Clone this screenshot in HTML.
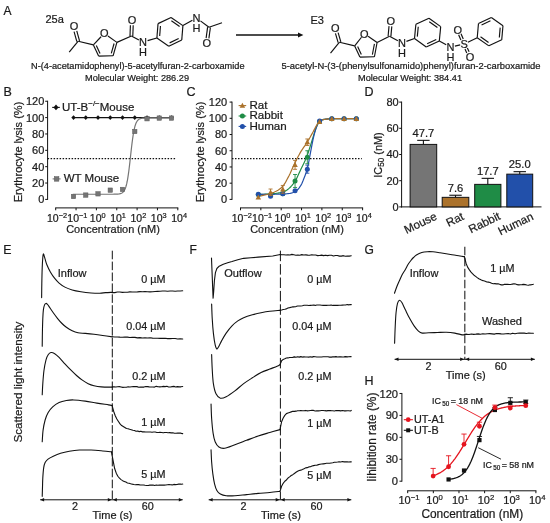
<!DOCTYPE html>
<html><head><meta charset="utf-8"><title>Figure</title>
<style>html,body{margin:0;padding:0;background:#fff}svg{display:block;will-change:transform;font-family:'Liberation Sans', Arial, sans-serif}svg text{stroke:#1a1a1a;stroke-width:0.22px;paint-order:stroke}</style>
</head><body>
<svg width="550" height="523" viewBox="0 0 550 523">
<rect width="550" height="523" fill="#fff"/>
<line x1="69.20" y1="52.20" x2="78.20" y2="41.20" stroke="#111" stroke-width="1.15"/>
<line x1="76.85" y1="41.58" x2="74.06" y2="31.68" stroke="#111" stroke-width="1.15"/>
<line x1="79.55" y1="40.82" x2="76.76" y2="30.93" stroke="#111" stroke-width="1.15"/>
<line x1="78.20" y1="41.20" x2="93.40" y2="44.90" stroke="#111" stroke-width="1.15"/>
<line x1="93.40" y1="44.90" x2="101.05" y2="36.75" stroke="#111" stroke-width="1.15"/>
<line x1="107.95" y1="36.06" x2="116.90" y2="42.40" stroke="#111" stroke-width="1.15"/>
<line x1="116.90" y1="42.40" x2="113.10" y2="55.80" stroke="#111" stroke-width="1.15"/>
<line x1="113.10" y1="55.80" x2="98.60" y2="56.10" stroke="#111" stroke-width="1.15"/>
<line x1="98.60" y1="56.10" x2="93.40" y2="44.90" stroke="#111" stroke-width="1.15"/>
<line x1="114.10" y1="43.48" x2="111.28" y2="53.41" stroke="#111" stroke-width="1.15"/>
<line x1="100.02" y1="53.46" x2="96.33" y2="45.52" stroke="#111" stroke-width="1.15"/>
<line x1="116.90" y1="42.40" x2="131.40" y2="36.00" stroke="#111" stroke-width="1.15"/>
<line x1="130.00" y1="35.95" x2="130.40" y2="25.24" stroke="#111" stroke-width="1.15"/>
<line x1="132.80" y1="36.05" x2="133.20" y2="25.35" stroke="#111" stroke-width="1.15"/>
<line x1="131.40" y1="36.00" x2="138.91" y2="39.89" stroke="#111" stroke-width="1.15"/>
<text x="74.00" y="30.26" font-size="11" text-anchor="middle" fill="#1a1a1a">O</text>
<text x="104.20" y="37.36" font-size="11" text-anchor="middle" fill="#1a1a1a">O</text>
<text x="132.00" y="24.06" font-size="11" text-anchor="middle" fill="#1a1a1a">O</text>
<text x="143.00" y="45.96" font-size="11" text-anchor="middle" fill="#1a1a1a">N</text>
<text x="143.00" y="55.56" font-size="11" text-anchor="middle" fill="#1a1a1a">H</text>
<line x1="182.90" y1="25.60" x2="171.03" y2="17.44" stroke="#111" stroke-width="1.15"/>
<line x1="171.03" y1="17.44" x2="158.03" y2="23.64" stroke="#111" stroke-width="1.15"/>
<line x1="158.03" y1="23.64" x2="156.90" y2="38.00" stroke="#111" stroke-width="1.15"/>
<line x1="156.90" y1="38.00" x2="168.77" y2="46.16" stroke="#111" stroke-width="1.15"/>
<line x1="168.77" y1="46.16" x2="181.77" y2="39.96" stroke="#111" stroke-width="1.15"/>
<line x1="181.77" y1="39.96" x2="182.90" y2="25.60" stroke="#111" stroke-width="1.15"/>
<line x1="179.61" y1="26.50" x2="171.37" y2="20.83" stroke="#111" stroke-width="1.15"/>
<line x1="160.45" y1="26.04" x2="159.67" y2="36.01" stroke="#111" stroke-width="1.15"/>
<line x1="169.64" y1="42.86" x2="178.66" y2="38.56" stroke="#111" stroke-width="1.15"/>
<line x1="147.61" y1="40.67" x2="156.90" y2="38.00" stroke="#111" stroke-width="1.15"/>
<line x1="182.90" y1="25.60" x2="192.40" y2="20.33" stroke="#111" stroke-width="1.15"/>
<line x1="200.44" y1="20.88" x2="209.00" y2="27.30" stroke="#111" stroke-width="1.15"/>
<line x1="210.39" y1="27.49" x2="208.89" y2="38.44" stroke="#111" stroke-width="1.15"/>
<line x1="207.61" y1="27.11" x2="206.12" y2="38.06" stroke="#111" stroke-width="1.15"/>
<line x1="209.00" y1="27.30" x2="222.00" y2="22.70" stroke="#111" stroke-width="1.15"/>
<text x="196.60" y="21.96" font-size="11" text-anchor="middle" fill="#1a1a1a">N</text>
<text x="196.60" y="31.96" font-size="11" text-anchor="middle" fill="#1a1a1a">H</text>
<text x="206.80" y="47.36" font-size="11" text-anchor="middle" fill="#1a1a1a">O</text>
<line x1="330.50" y1="53.20" x2="339.50" y2="42.20" stroke="#111" stroke-width="1.15"/>
<line x1="338.16" y1="42.60" x2="335.43" y2="33.38" stroke="#111" stroke-width="1.15"/>
<line x1="340.84" y1="41.80" x2="338.12" y2="32.59" stroke="#111" stroke-width="1.15"/>
<line x1="339.50" y1="42.20" x2="354.70" y2="45.90" stroke="#111" stroke-width="1.15"/>
<line x1="354.70" y1="45.90" x2="361.47" y2="37.23" stroke="#111" stroke-width="1.15"/>
<line x1="368.08" y1="36.23" x2="377.10" y2="42.50" stroke="#111" stroke-width="1.15"/>
<line x1="377.10" y1="42.50" x2="374.40" y2="56.80" stroke="#111" stroke-width="1.15"/>
<line x1="374.40" y1="56.80" x2="359.90" y2="57.10" stroke="#111" stroke-width="1.15"/>
<line x1="359.90" y1="57.10" x2="354.70" y2="45.90" stroke="#111" stroke-width="1.15"/>
<line x1="374.41" y1="43.82" x2="372.38" y2="54.59" stroke="#111" stroke-width="1.15"/>
<line x1="361.32" y1="54.46" x2="357.63" y2="46.52" stroke="#111" stroke-width="1.15"/>
<line x1="377.10" y1="42.50" x2="389.50" y2="36.20" stroke="#111" stroke-width="1.15"/>
<line x1="388.11" y1="36.07" x2="389.03" y2="26.15" stroke="#111" stroke-width="1.15"/>
<line x1="390.89" y1="36.33" x2="391.81" y2="26.41" stroke="#111" stroke-width="1.15"/>
<line x1="389.50" y1="36.20" x2="397.87" y2="40.79" stroke="#111" stroke-width="1.15"/>
<text x="335.30" y="31.96" font-size="11" text-anchor="middle" fill="#1a1a1a">O</text>
<text x="364.30" y="37.56" font-size="11" text-anchor="middle" fill="#1a1a1a">O</text>
<text x="390.90" y="25.06" font-size="11" text-anchor="middle" fill="#1a1a1a">O</text>
<text x="401.90" y="46.96" font-size="11" text-anchor="middle" fill="#1a1a1a">N</text>
<text x="401.90" y="56.56" font-size="11" text-anchor="middle" fill="#1a1a1a">H</text>
<line x1="440.70" y1="26.63" x2="428.98" y2="18.27" stroke="#111" stroke-width="1.15"/>
<line x1="428.98" y1="18.27" x2="415.88" y2="24.24" stroke="#111" stroke-width="1.15"/>
<line x1="415.88" y1="24.24" x2="414.50" y2="38.57" stroke="#111" stroke-width="1.15"/>
<line x1="414.50" y1="38.57" x2="426.22" y2="46.93" stroke="#111" stroke-width="1.15"/>
<line x1="426.22" y1="46.93" x2="439.32" y2="40.96" stroke="#111" stroke-width="1.15"/>
<line x1="439.32" y1="40.96" x2="440.70" y2="26.63" stroke="#111" stroke-width="1.15"/>
<line x1="437.40" y1="27.47" x2="429.26" y2="21.66" stroke="#111" stroke-width="1.15"/>
<line x1="418.25" y1="26.68" x2="417.30" y2="36.63" stroke="#111" stroke-width="1.15"/>
<line x1="427.14" y1="43.66" x2="436.24" y2="39.51" stroke="#111" stroke-width="1.15"/>
<line x1="406.43" y1="41.41" x2="414.50" y2="38.57" stroke="#111" stroke-width="1.15"/>
<line x1="439.32" y1="40.96" x2="446.22" y2="44.84" stroke="#111" stroke-width="1.15"/>
<line x1="454.88" y1="46.15" x2="460.20" y2="44.91" stroke="#111" stroke-width="1.15"/>
<line x1="460.89" y1="39.95" x2="458.63" y2="34.80" stroke="#111" stroke-width="1.15"/>
<line x1="463.27" y1="38.90" x2="461.01" y2="33.75" stroke="#111" stroke-width="1.15"/>
<line x1="467.36" y1="48.01" x2="469.10" y2="51.81" stroke="#111" stroke-width="1.15"/>
<line x1="465.00" y1="49.09" x2="466.74" y2="52.89" stroke="#111" stroke-width="1.15"/>
<line x1="502.97" y1="25.70" x2="491.34" y2="17.55" stroke="#111" stroke-width="1.15"/>
<line x1="491.34" y1="17.55" x2="478.47" y2="23.56" stroke="#111" stroke-width="1.15"/>
<line x1="478.47" y1="23.56" x2="477.23" y2="37.70" stroke="#111" stroke-width="1.15"/>
<line x1="477.23" y1="37.70" x2="488.86" y2="45.85" stroke="#111" stroke-width="1.15"/>
<line x1="488.86" y1="45.85" x2="501.73" y2="39.84" stroke="#111" stroke-width="1.15"/>
<line x1="501.73" y1="39.84" x2="502.97" y2="25.70" stroke="#111" stroke-width="1.15"/>
<line x1="490.44" y1="20.84" x2="481.56" y2="24.98" stroke="#111" stroke-width="1.15"/>
<line x1="480.52" y1="36.83" x2="488.55" y2="42.45" stroke="#111" stroke-width="1.15"/>
<line x1="499.33" y1="37.43" x2="500.19" y2="27.66" stroke="#111" stroke-width="1.15"/>
<line x1="467.89" y1="42.18" x2="477.23" y2="37.70" stroke="#111" stroke-width="1.15"/>
<text x="450.40" y="51.16" font-size="11" text-anchor="middle" fill="#1a1a1a">N</text>
<text x="450.40" y="60.76" font-size="11" text-anchor="middle" fill="#1a1a1a">H</text>
<text x="464.10" y="47.96" font-size="11" text-anchor="middle" fill="#1a1a1a">S</text>
<text x="457.80" y="33.66" font-size="11" text-anchor="middle" fill="#1a1a1a">O</text>
<text x="470.00" y="60.86" font-size="11" text-anchor="middle" fill="#1a1a1a">O</text>
<text x="3.40" y="15.40" font-size="12" text-anchor="start" fill="#1a1a1a">A</text>
<text x="45.50" y="23.40" font-size="11" text-anchor="start" fill="#1a1a1a">25a</text>
<text x="310.40" y="23.50" font-size="11" text-anchor="start" fill="#1a1a1a">E3</text>
<text x="137.80" y="68.80" font-size="9.2" text-anchor="middle" fill="#1a1a1a">N-(4-acetamidophenyl)-5-acetylfuran-2-carboxamide</text>
<text x="137.00" y="80.80" font-size="9.2" text-anchor="middle" fill="#1a1a1a">Molecular Weight: 286.29</text>
<text x="411.00" y="68.80" font-size="9.4" text-anchor="middle" fill="#1a1a1a">5-acetyl-N-(3-(phenylsulfonamido)phenyl)furan-2-carboxamide</text>
<text x="410.00" y="80.80" font-size="9.2" text-anchor="middle" fill="#1a1a1a">Molecular Weight: 384.41</text>
<line x1="236.00" y1="35.00" x2="299.00" y2="35.00" stroke="#111" stroke-width="1.5"/>
<path d="M303.4,35 L298,32.5 L298,37.5 Z" fill="#111"/>
<text x="3.60" y="95.80" font-size="12.5" text-anchor="start" fill="#1a1a1a">B</text>
<line x1="47.60" y1="199.90" x2="47.60" y2="100.74" stroke="#111" stroke-width="1"/>
<line x1="45.20" y1="199.40" x2="47.60" y2="199.40" stroke="#111" stroke-width="1"/>
<text x="44.30" y="203.36" font-size="11" text-anchor="end" fill="#1a1a1a">0</text>
<line x1="45.20" y1="183.04" x2="47.60" y2="183.04" stroke="#111" stroke-width="1"/>
<text x="44.30" y="187.00" font-size="11" text-anchor="end" fill="#1a1a1a">20</text>
<line x1="45.20" y1="166.68" x2="47.60" y2="166.68" stroke="#111" stroke-width="1"/>
<text x="44.30" y="170.64" font-size="11" text-anchor="end" fill="#1a1a1a">40</text>
<line x1="45.20" y1="150.32" x2="47.60" y2="150.32" stroke="#111" stroke-width="1"/>
<text x="44.30" y="154.28" font-size="11" text-anchor="end" fill="#1a1a1a">60</text>
<line x1="45.20" y1="133.96" x2="47.60" y2="133.96" stroke="#111" stroke-width="1"/>
<text x="44.30" y="137.92" font-size="11" text-anchor="end" fill="#1a1a1a">80</text>
<line x1="45.20" y1="117.60" x2="47.60" y2="117.60" stroke="#111" stroke-width="1"/>
<text x="44.30" y="121.56" font-size="11" text-anchor="end" fill="#1a1a1a">100</text>
<line x1="45.20" y1="101.24" x2="47.60" y2="101.24" stroke="#111" stroke-width="1"/>
<text x="44.30" y="105.20" font-size="11" text-anchor="end" fill="#1a1a1a">120</text>
<line x1="55.20" y1="207.90" x2="178.30" y2="207.90" stroke="#111" stroke-width="1"/>
<line x1="55.70" y1="207.90" x2="55.70" y2="210.30" stroke="#111" stroke-width="1"/>
<text x="57.00" y="221.70" font-size="10.5" text-anchor="middle" fill="#1a1a1a">10<tspan font-size="7.35" dy="-3.78">−2</tspan></text>
<line x1="76.05" y1="207.90" x2="76.05" y2="210.30" stroke="#111" stroke-width="1"/>
<text x="77.35" y="221.70" font-size="10.5" text-anchor="middle" fill="#1a1a1a">10<tspan font-size="7.35" dy="-3.78">−1</tspan></text>
<line x1="96.40" y1="207.90" x2="96.40" y2="210.30" stroke="#111" stroke-width="1"/>
<text x="97.70" y="221.70" font-size="10.5" text-anchor="middle" fill="#1a1a1a">10<tspan font-size="7.35" dy="-3.78">0</tspan></text>
<line x1="116.75" y1="207.90" x2="116.75" y2="210.30" stroke="#111" stroke-width="1"/>
<text x="118.05" y="221.70" font-size="10.5" text-anchor="middle" fill="#1a1a1a">10<tspan font-size="7.35" dy="-3.78">1</tspan></text>
<line x1="137.10" y1="207.90" x2="137.10" y2="210.30" stroke="#111" stroke-width="1"/>
<text x="138.40" y="221.70" font-size="10.5" text-anchor="middle" fill="#1a1a1a">10<tspan font-size="7.35" dy="-3.78">2</tspan></text>
<line x1="157.45" y1="207.90" x2="157.45" y2="210.30" stroke="#111" stroke-width="1"/>
<text x="158.75" y="221.70" font-size="10.5" text-anchor="middle" fill="#1a1a1a">10<tspan font-size="7.35" dy="-3.78">3</tspan></text>
<line x1="177.80" y1="207.90" x2="177.80" y2="210.30" stroke="#111" stroke-width="1"/>
<text x="179.10" y="221.70" font-size="10.5" text-anchor="middle" fill="#1a1a1a">10<tspan font-size="7.35" dy="-3.78">4</tspan></text>
<text transform="translate(113.00 233.20) scale(0.945 1)" font-size="11.6" text-anchor="middle" fill="#1a1a1a">Concentration (nM)</text>
<text x="21.90" y="152.00" font-size="11.05" text-anchor="middle" fill="#1a1a1a" transform="rotate(-90 21.9 152.0)">Erythrocyte lysis (%)</text>
<line x1="47.60" y1="158.70" x2="176.00" y2="158.70" stroke="#111" stroke-width="1.2" stroke-dasharray="1.5,1.5"/>
<line x1="73.51" y1="117.60" x2="171.52" y2="117.60" stroke="#111" stroke-width="1.1"/>
<path d="M73.51,115.20 L75.67,117.60 L73.51,120.00 L71.35,117.60 Z" fill="#111"/>
<path d="M85.76,115.20 L87.92,117.60 L85.76,120.00 L83.60,117.60 Z" fill="#111"/>
<path d="M98.01,115.20 L100.17,117.60 L98.01,120.00 L95.85,117.60 Z" fill="#111"/>
<path d="M110.26,115.20 L112.42,117.60 L110.26,120.00 L108.10,117.60 Z" fill="#111"/>
<path d="M122.52,115.20 L124.68,117.60 L122.52,120.00 L120.36,117.60 Z" fill="#111"/>
<path d="M134.77,115.20 L136.93,117.60 L134.77,120.00 L132.61,117.60 Z" fill="#111"/>
<path d="M147.02,115.20 L149.18,117.60 L147.02,120.00 L144.86,117.60 Z" fill="#111"/>
<path d="M159.27,115.20 L161.43,117.60 L159.27,120.00 L157.11,117.60 Z" fill="#111"/>
<path d="M171.52,115.20 L173.68,117.60 L171.52,120.00 L169.36,117.60 Z" fill="#111"/>
<path d="M73.00,194.25 L73.40,194.25 L73.81,194.25 L74.22,194.25 L74.63,194.25 L75.03,194.25 L75.44,194.25 L75.85,194.25 L76.25,194.25 L76.66,194.25 L77.07,194.25 L77.47,194.25 L77.88,194.25 L78.29,194.25 L78.70,194.25 L79.10,194.25 L79.51,194.25 L79.92,194.25 L80.32,194.25 L80.73,194.25 L81.14,194.25 L81.54,194.25 L81.95,194.25 L82.36,194.25 L82.77,194.25 L83.17,194.25 L83.58,194.25 L83.99,194.25 L84.39,194.25 L84.80,194.25 L85.21,194.25 L85.61,194.25 L86.02,194.25 L86.43,194.25 L86.84,194.25 L87.24,194.25 L87.65,194.25 L88.06,194.25 L88.46,194.25 L88.87,194.25 L89.28,194.25 L89.68,194.25 L90.09,194.25 L90.50,194.25 L90.91,194.25 L91.31,194.25 L91.72,194.25 L92.13,194.25 L92.53,194.25 L92.94,194.25 L93.35,194.25 L93.75,194.25 L94.16,194.25 L94.57,194.25 L94.98,194.25 L95.38,194.25 L95.79,194.25 L96.20,194.25 L96.60,194.25 L97.01,194.25 L97.42,194.25 L97.82,194.25 L98.23,194.25 L98.64,194.25 L99.05,194.25 L99.45,194.25 L99.86,194.25 L100.27,194.25 L100.67,194.25 L101.08,194.25 L101.49,194.25 L101.89,194.25 L102.30,194.25 L102.71,194.25 L103.12,194.25 L103.52,194.25 L103.93,194.25 L104.34,194.25 L104.74,194.25 L105.15,194.25 L105.56,194.25 L105.96,194.25 L106.37,194.25 L106.78,194.25 L107.19,194.25 L107.59,194.25 L108.00,194.24 L108.41,194.24 L108.81,194.24 L109.22,194.24 L109.63,194.24 L110.03,194.24 L110.44,194.24 L110.85,194.24 L111.26,194.24 L111.66,194.24 L112.07,194.23 L112.48,194.23 L112.88,194.23 L113.29,194.23 L113.70,194.22 L114.10,194.22 L114.51,194.21 L114.92,194.20 L115.33,194.19 L115.73,194.18 L116.14,194.17 L116.55,194.15 L116.95,194.13 L117.36,194.10 L117.77,194.07 L118.17,194.03 L118.58,193.99 L118.99,193.94 L119.40,193.87 L119.80,193.79 L120.21,193.69 L120.62,193.58 L121.02,193.43 L121.43,193.26 L121.84,193.06 L122.24,192.81 L122.65,192.51 L123.06,192.14 L123.47,191.71 L123.87,191.19 L124.28,190.57 L124.69,189.83 L125.09,188.95 L125.50,187.92 L125.91,186.70 L126.31,185.28 L126.72,183.63 L127.13,181.74 L127.54,179.58 L127.94,177.16 L128.35,174.45 L128.76,171.49 L129.16,168.29 L129.57,164.88 L129.98,161.32 L130.38,157.66 L130.79,153.97 L131.20,150.32 L131.61,146.78 L132.01,143.40 L132.42,140.23 L132.83,137.30 L133.23,134.64 L133.64,132.25 L134.05,130.14 L134.45,128.28 L134.86,126.67 L135.27,125.28 L135.68,124.09 L136.08,123.08 L136.49,122.22 L136.90,121.50 L137.30,120.90 L137.71,120.39 L138.12,119.97 L138.52,119.62 L138.93,119.33 L139.34,119.09 L139.75,118.88 L140.15,118.72 L140.56,118.58 L140.97,118.47 L141.37,118.37 L141.78,118.29 L142.19,118.23 L142.59,118.18 L143.00,118.13 L143.41,118.10 L143.82,118.07 L144.22,118.04 L144.63,118.02 L145.04,118.01 L145.44,117.99 L145.85,117.98 L146.26,117.97 L146.66,117.96 L147.07,117.96 L147.48,117.95 L147.89,117.95 L148.29,117.94 L148.70,117.94 L149.11,117.94 L149.51,117.94 L149.92,117.93 L150.33,117.93 L150.73,117.93 L151.14,117.93 L151.55,117.93 L151.96,117.93 L152.36,117.93 L152.77,117.93 L153.18,117.93 L153.58,117.93 L153.99,117.93 L154.40,117.93 L154.80,117.93 L155.21,117.93 L155.62,117.93 L156.03,117.93 L156.43,117.93 L156.84,117.93 L157.25,117.93 L157.65,117.93 L158.06,117.93 L158.47,117.93 L158.87,117.93 L159.28,117.93 L159.69,117.93 L160.10,117.93 L160.50,117.93 L160.91,117.93 L161.32,117.93 L161.72,117.93 L162.13,117.93 L162.54,117.93 L162.94,117.93 L163.35,117.93 L163.76,117.93 L164.17,117.93 L164.57,117.93 L164.98,117.93 L165.39,117.93 L165.79,117.93 L166.20,117.93 L166.61,117.93 L167.01,117.93 L167.42,117.93 L167.83,117.93 L168.24,117.93 L168.64,117.93 L169.05,117.93 L169.46,117.93 L169.86,117.93 L170.27,117.93 L170.68,117.93 L171.08,117.93 L171.49,117.93" fill="none" stroke="#757575" stroke-width="1.2" stroke-linejoin="round" stroke-linecap="round"/>
<rect x="71.31" y="194.34" width="4.4" height="4.4" fill="#757575" stroke="#5a5a5a" stroke-width="0.5"/>
<rect x="83.56" y="192.86" width="4.4" height="4.4" fill="#757575" stroke="#5a5a5a" stroke-width="0.5"/>
<rect x="95.81" y="191.64" width="4.4" height="4.4" fill="#757575" stroke="#5a5a5a" stroke-width="0.5"/>
<rect x="108.06" y="187.96" width="4.4" height="4.4" fill="#757575" stroke="#5a5a5a" stroke-width="0.5"/>
<rect x="120.32" y="187.22" width="4.4" height="4.4" fill="#757575" stroke="#5a5a5a" stroke-width="0.5"/>
<rect x="132.57" y="129.31" width="4.4" height="4.4" fill="#757575" stroke="#5a5a5a" stroke-width="0.5"/>
<rect x="144.82" y="116.55" width="4.4" height="4.4" fill="#757575" stroke="#5a5a5a" stroke-width="0.5"/>
<rect x="157.07" y="115.89" width="4.4" height="4.4" fill="#757575" stroke="#5a5a5a" stroke-width="0.5"/>
<rect x="169.32" y="115.89" width="4.4" height="4.4" fill="#757575" stroke="#5a5a5a" stroke-width="0.5"/>
<line x1="52.20" y1="107.40" x2="59.80" y2="107.40" stroke="#111" stroke-width="1.1"/>
<path d="M56.00,104.60 L58.52,107.40 L56.00,110.20 L53.48,107.40 Z" fill="#111"/>
<text x="62" y="111.2" font-size="11.5" fill="#1a1a1a">UT-B<tspan font-size="8" dy="-4.8">−/−</tspan><tspan dy="4.8">Mouse</tspan></text>
<line x1="52.60" y1="178.90" x2="60.60" y2="178.90" stroke="#757575" stroke-width="1.1"/>
<rect x="54.30" y="176.60" width="4.6" height="4.6" fill="#757575" stroke="#5a5a5a" stroke-width="0.5"/>
<text x="63.70" y="182.40" font-size="11.5" text-anchor="start" fill="#1a1a1a">WT Mouse</text>
<text x="186.60" y="96.40" font-size="12.5" text-anchor="start" fill="#1a1a1a">C</text>
<line x1="232.00" y1="199.90" x2="232.00" y2="101.58" stroke="#111" stroke-width="1"/>
<line x1="229.60" y1="199.40" x2="232.00" y2="199.40" stroke="#111" stroke-width="1"/>
<text x="227.20" y="203.36" font-size="11" text-anchor="end" fill="#1a1a1a">0</text>
<line x1="229.60" y1="183.18" x2="232.00" y2="183.18" stroke="#111" stroke-width="1"/>
<text x="227.20" y="187.14" font-size="11" text-anchor="end" fill="#1a1a1a">20</text>
<line x1="229.60" y1="166.96" x2="232.00" y2="166.96" stroke="#111" stroke-width="1"/>
<text x="227.20" y="170.92" font-size="11" text-anchor="end" fill="#1a1a1a">40</text>
<line x1="229.60" y1="150.74" x2="232.00" y2="150.74" stroke="#111" stroke-width="1"/>
<text x="227.20" y="154.70" font-size="11" text-anchor="end" fill="#1a1a1a">60</text>
<line x1="229.60" y1="134.52" x2="232.00" y2="134.52" stroke="#111" stroke-width="1"/>
<text x="227.20" y="138.48" font-size="11" text-anchor="end" fill="#1a1a1a">80</text>
<line x1="229.60" y1="118.30" x2="232.00" y2="118.30" stroke="#111" stroke-width="1"/>
<text x="227.20" y="122.26" font-size="11" text-anchor="end" fill="#1a1a1a">100</text>
<line x1="229.60" y1="102.08" x2="232.00" y2="102.08" stroke="#111" stroke-width="1"/>
<text x="227.20" y="106.04" font-size="11" text-anchor="end" fill="#1a1a1a">120</text>
<line x1="240.00" y1="207.90" x2="363.10" y2="207.90" stroke="#111" stroke-width="1"/>
<line x1="240.50" y1="207.90" x2="240.50" y2="210.30" stroke="#111" stroke-width="1"/>
<text x="241.80" y="221.70" font-size="10.5" text-anchor="middle" fill="#1a1a1a">10<tspan font-size="7.35" dy="-3.78">−2</tspan></text>
<line x1="260.85" y1="207.90" x2="260.85" y2="210.30" stroke="#111" stroke-width="1"/>
<text x="262.15" y="221.70" font-size="10.5" text-anchor="middle" fill="#1a1a1a">10<tspan font-size="7.35" dy="-3.78">−1</tspan></text>
<line x1="281.20" y1="207.90" x2="281.20" y2="210.30" stroke="#111" stroke-width="1"/>
<text x="282.50" y="221.70" font-size="10.5" text-anchor="middle" fill="#1a1a1a">10<tspan font-size="7.35" dy="-3.78">0</tspan></text>
<line x1="301.55" y1="207.90" x2="301.55" y2="210.30" stroke="#111" stroke-width="1"/>
<text x="302.85" y="221.70" font-size="10.5" text-anchor="middle" fill="#1a1a1a">10<tspan font-size="7.35" dy="-3.78">1</tspan></text>
<line x1="321.90" y1="207.90" x2="321.90" y2="210.30" stroke="#111" stroke-width="1"/>
<text x="323.20" y="221.70" font-size="10.5" text-anchor="middle" fill="#1a1a1a">10<tspan font-size="7.35" dy="-3.78">2</tspan></text>
<line x1="342.25" y1="207.90" x2="342.25" y2="210.30" stroke="#111" stroke-width="1"/>
<text x="343.55" y="221.70" font-size="10.5" text-anchor="middle" fill="#1a1a1a">10<tspan font-size="7.35" dy="-3.78">3</tspan></text>
<line x1="362.60" y1="207.90" x2="362.60" y2="210.30" stroke="#111" stroke-width="1"/>
<text x="363.90" y="221.70" font-size="10.5" text-anchor="middle" fill="#1a1a1a">10<tspan font-size="7.35" dy="-3.78">4</tspan></text>
<text transform="translate(297.00 233.20) scale(0.945 1)" font-size="11.6" text-anchor="middle" fill="#1a1a1a">Concentration (nM)</text>
<text x="204.20" y="152.00" font-size="11.05" text-anchor="middle" fill="#1a1a1a" transform="rotate(-90 204.2 152.0)">Erythrocyte lysis (%)</text>
<line x1="232.00" y1="158.70" x2="361.80" y2="158.70" stroke="#111" stroke-width="1.2" stroke-dasharray="1.5,1.5"/>
<path d="M258.00,194.40 L259.00,194.40 L260.00,194.38 L261.00,194.36 L262.00,194.33 L263.00,194.30 L264.00,194.26 L265.00,194.21 L266.00,194.16 L267.00,194.10 L268.00,194.05 L269.00,193.99 L270.00,193.92 L271.00,193.86 L272.00,193.79 L273.00,193.71 L274.00,193.62 L275.00,193.51 L276.00,193.40 L277.00,193.26 L278.00,193.12 L279.00,192.96 L280.00,192.78 L281.00,192.58 L282.00,192.36 L283.00,192.12 L284.00,191.75 L285.00,191.25 L286.00,190.63 L287.00,189.93 L288.00,189.16 L289.00,188.35 L290.00,187.48 L291.00,186.47 L292.00,185.32 L293.00,184.05 L294.00,182.67 L295.00,181.20 L296.00,179.53 L297.00,177.62 L298.00,175.52 L299.00,173.34 L300.00,171.14 L301.00,169.00 L302.00,166.96 L303.00,164.95 L304.00,162.92 L305.00,160.80 L306.00,158.52 L307.00,156.01 L308.00,153.20 L309.00,150.17 L310.00,147.02 L311.00,143.86 L312.00,140.72 L313.00,137.40 L314.00,134.06 L315.00,130.94 L316.00,128.23 L317.00,125.75 L318.00,123.66 L319.00,122.14 L320.00,120.97 L321.00,120.33 L322.00,119.91 L323.00,119.61 L324.00,119.41 L325.00,119.26 L326.00,119.14 L327.00,119.04 L328.00,118.96 L329.00,118.86 L330.00,118.78 L331.00,118.72 L332.00,118.70 L333.00,118.70 L334.00,118.70 L335.00,118.70 L336.00,118.70 L337.00,118.70 L338.00,118.70 L339.00,118.70 L340.00,118.70 L341.00,118.70 L342.00,118.70 L343.00,118.70 L344.00,118.70 L345.00,118.70 L346.00,118.70 L347.00,118.70 L348.00,118.70 L349.00,118.70 L350.00,118.70 L351.00,118.70 L352.00,118.70 L353.00,118.70 L354.00,118.70 L355.00,118.70 L356.00,118.70 L356.20,118.70" fill="none" stroke="#1f8c46" stroke-width="1.2" stroke-linejoin="round" stroke-linecap="round"/>
<path d="M258.00,194.40 L259.00,194.40 L260.00,194.40 L261.00,194.40 L262.00,194.39 L263.00,194.39 L264.00,194.38 L265.00,194.38 L266.00,194.37 L267.00,194.36 L268.00,194.35 L269.00,194.34 L270.00,194.33 L271.00,194.32 L272.00,194.31 L273.00,194.29 L274.00,194.28 L275.00,194.26 L276.00,194.24 L277.00,194.23 L278.00,194.21 L279.00,194.19 L280.00,194.16 L281.00,194.14 L282.00,194.12 L283.00,194.09 L284.00,194.05 L285.00,193.98 L286.00,193.89 L287.00,193.77 L288.00,193.64 L289.00,193.49 L290.00,193.33 L291.00,193.14 L292.00,192.88 L293.00,192.53 L294.00,192.09 L295.00,191.58 L296.00,191.00 L297.00,190.26 L298.00,189.28 L299.00,188.09 L300.00,186.73 L301.00,185.18 L302.00,183.19 L303.00,180.84 L304.00,178.30 L305.00,175.70 L306.00,172.95 L307.00,169.80 L308.00,165.89 L309.00,160.73 L310.00,155.15 L311.00,149.91 L312.00,144.64 L313.00,139.65 L314.00,135.37 L315.00,131.52 L316.00,128.18 L317.00,125.50 L318.00,123.26 L319.00,121.77 L320.00,120.81 L321.00,120.20 L322.00,119.84 L323.00,119.59 L324.00,119.40 L325.00,119.25 L326.00,119.13 L327.00,119.04 L328.00,118.95 L329.00,118.87 L330.00,118.78 L331.00,118.72 L332.00,118.70 L333.00,118.70 L334.00,118.70 L335.00,118.70 L336.00,118.70 L337.00,118.70 L338.00,118.70 L339.00,118.70 L340.00,118.70 L341.00,118.70 L342.00,118.70 L343.00,118.70 L344.00,118.70 L345.00,118.70 L346.00,118.70 L347.00,118.70 L348.00,118.70 L349.00,118.70 L350.00,118.70 L351.00,118.70 L352.00,118.70 L353.00,118.70 L354.00,118.70 L355.00,118.70 L356.00,118.70 L356.20,118.70" fill="none" stroke="#2250aa" stroke-width="1.2" stroke-linejoin="round" stroke-linecap="round"/>
<path d="M258.00,196.30 L259.00,196.14 L260.00,195.97 L261.00,195.80 L262.00,195.61 L263.00,195.41 L264.00,195.20 L265.00,194.99 L266.00,194.76 L267.00,194.53 L268.00,194.28 L269.00,194.01 L270.00,193.72 L271.00,193.41 L272.00,193.06 L273.00,192.68 L274.00,192.26 L275.00,191.80 L276.00,191.31 L277.00,190.76 L278.00,190.16 L279.00,189.49 L280.00,188.75 L281.00,187.92 L282.00,187.00 L283.00,185.96 L284.00,184.65 L285.00,183.09 L286.00,181.36 L287.00,179.52 L288.00,177.63 L289.00,175.74 L290.00,173.71 L291.00,171.54 L292.00,169.31 L293.00,167.06 L294.00,164.87 L295.00,162.80 L296.00,160.79 L297.00,158.79 L298.00,156.83 L299.00,154.93 L300.00,153.12 L301.00,151.40 L302.00,149.82 L303.00,148.35 L304.00,146.94 L305.00,145.54 L306.00,144.08 L307.00,142.52 L308.00,140.88 L309.00,139.18 L310.00,137.44 L311.00,135.67 L312.00,133.88 L313.00,132.07 L314.00,130.14 L315.00,128.19 L316.00,126.33 L317.00,124.69 L318.00,123.16 L319.00,121.89 L320.00,121.04 L321.00,120.42 L322.00,120.02 L323.00,119.72 L324.00,119.49 L325.00,119.32 L326.00,119.17 L327.00,119.05 L328.00,118.95 L329.00,118.86 L330.00,118.78 L331.00,118.72 L332.00,118.70 L333.00,118.70 L334.00,118.70 L335.00,118.70 L336.00,118.70 L337.00,118.70 L338.00,118.70 L339.00,118.70 L340.00,118.70 L341.00,118.70 L342.00,118.70 L343.00,118.70 L344.00,118.70 L345.00,118.70 L346.00,118.70 L347.00,118.70 L348.00,118.70 L349.00,118.70 L350.00,118.70 L351.00,118.70 L352.00,118.70 L353.00,118.70 L354.00,118.70 L355.00,118.70 L356.00,118.70 L356.20,118.70" fill="none" stroke="#ab722b" stroke-width="1.2" stroke-linejoin="round" stroke-linecap="round"/>
<circle cx="258.31" cy="194.53" r="2.5" fill="#1f8c46"/>
<circle cx="270.56" cy="195.34" r="2.5" fill="#1f8c46"/>
<circle cx="282.81" cy="193.72" r="2.5" fill="#1f8c46"/>
<line x1="295.06" y1="187.48" x2="295.06" y2="174.50" stroke="#1f8c46" stroke-width="0.9"/>
<line x1="293.06" y1="174.50" x2="297.06" y2="174.50" stroke="#1f8c46" stroke-width="0.9"/>
<line x1="293.06" y1="187.48" x2="297.06" y2="187.48" stroke="#1f8c46" stroke-width="0.9"/>
<circle cx="295.06" cy="180.99" r="2.5" fill="#1f8c46"/>
<line x1="307.32" y1="163.72" x2="307.32" y2="150.74" stroke="#1f8c46" stroke-width="0.9"/>
<line x1="305.32" y1="150.74" x2="309.32" y2="150.74" stroke="#1f8c46" stroke-width="0.9"/>
<line x1="305.32" y1="163.72" x2="309.32" y2="163.72" stroke="#1f8c46" stroke-width="0.9"/>
<circle cx="307.32" cy="157.23" r="2.5" fill="#1f8c46"/>
<circle cx="319.57" cy="121.54" r="2.5" fill="#1f8c46"/>
<circle cx="331.82" cy="118.79" r="2.5" fill="#1f8c46"/>
<circle cx="344.07" cy="118.79" r="2.5" fill="#1f8c46"/>
<circle cx="356.32" cy="118.79" r="2.5" fill="#1f8c46"/>
<circle cx="258.31" cy="194.13" r="2.5" fill="#2250aa"/>
<circle cx="270.56" cy="196.32" r="2.5" fill="#2250aa"/>
<circle cx="282.81" cy="193.72" r="2.5" fill="#2250aa"/>
<circle cx="295.06" cy="190.80" r="2.5" fill="#2250aa"/>
<line x1="307.32" y1="173.20" x2="307.32" y2="165.09" stroke="#2250aa" stroke-width="0.9"/>
<line x1="305.32" y1="165.09" x2="309.32" y2="165.09" stroke="#2250aa" stroke-width="0.9"/>
<line x1="305.32" y1="173.20" x2="309.32" y2="173.20" stroke="#2250aa" stroke-width="0.9"/>
<circle cx="307.32" cy="169.15" r="2.5" fill="#2250aa"/>
<circle cx="319.57" cy="120.90" r="2.5" fill="#2250aa"/>
<circle cx="331.82" cy="118.79" r="2.5" fill="#2250aa"/>
<circle cx="344.07" cy="118.79" r="2.5" fill="#2250aa"/>
<circle cx="356.32" cy="118.79" r="2.5" fill="#2250aa"/>
<path d="M258.31,194.42 L261.06,199.42 L255.56,199.42 Z" fill="#ab722b"/>
<line x1="270.56" y1="195.51" x2="270.56" y2="189.02" stroke="#ab722b" stroke-width="0.9"/>
<line x1="268.56" y1="189.02" x2="272.56" y2="189.02" stroke="#ab722b" stroke-width="0.9"/>
<line x1="268.56" y1="195.51" x2="272.56" y2="195.51" stroke="#ab722b" stroke-width="0.9"/>
<path d="M270.56,189.39 L273.31,194.39 L267.81,194.39 Z" fill="#ab722b"/>
<line x1="282.81" y1="193.24" x2="282.81" y2="185.45" stroke="#ab722b" stroke-width="0.9"/>
<line x1="280.81" y1="185.45" x2="284.81" y2="185.45" stroke="#ab722b" stroke-width="0.9"/>
<line x1="280.81" y1="193.24" x2="284.81" y2="193.24" stroke="#ab722b" stroke-width="0.9"/>
<path d="M282.81,186.47 L285.56,191.47 L280.06,191.47 Z" fill="#ab722b"/>
<line x1="295.06" y1="169.31" x2="295.06" y2="160.39" stroke="#ab722b" stroke-width="0.9"/>
<line x1="293.06" y1="160.39" x2="297.06" y2="160.39" stroke="#ab722b" stroke-width="0.9"/>
<line x1="293.06" y1="169.31" x2="297.06" y2="169.31" stroke="#ab722b" stroke-width="0.9"/>
<path d="M295.06,161.98 L297.81,166.98 L292.31,166.98 Z" fill="#ab722b"/>
<line x1="307.32" y1="145.47" x2="307.32" y2="138.98" stroke="#ab722b" stroke-width="0.9"/>
<line x1="305.32" y1="138.98" x2="309.32" y2="138.98" stroke="#ab722b" stroke-width="0.9"/>
<line x1="305.32" y1="145.47" x2="309.32" y2="145.47" stroke="#ab722b" stroke-width="0.9"/>
<path d="M307.32,139.35 L310.07,144.35 L304.57,144.35 Z" fill="#ab722b"/>
<path d="M319.57,119.07 L322.32,124.07 L316.82,124.07 Z" fill="#ab722b"/>
<path d="M331.82,115.91 L334.57,120.91 L329.07,120.91 Z" fill="#ab722b"/>
<path d="M344.07,115.91 L346.82,120.91 L341.32,120.91 Z" fill="#ab722b"/>
<path d="M356.32,115.91 L359.07,120.91 L353.57,120.91 Z" fill="#ab722b"/>
<line x1="238.60" y1="105.60" x2="246.20" y2="105.60" stroke="#ab722b" stroke-width="1.1"/>
<path d="M242.40,102.72 L245.15,107.72 L239.65,107.72 Z" fill="#ab722b"/>
<text x="249.40" y="109.00" font-size="11.6" text-anchor="start" fill="#1a1a1a">Rat</text>
<line x1="238.60" y1="116.00" x2="246.20" y2="116.00" stroke="#1f8c46" stroke-width="1.1"/>
<circle cx="242.40" cy="116.00" r="2.5" fill="#1f8c46"/>
<text x="249.40" y="119.40" font-size="11.6" text-anchor="start" fill="#1a1a1a">Rabbit</text>
<line x1="238.60" y1="126.40" x2="246.20" y2="126.40" stroke="#2250aa" stroke-width="1.1"/>
<circle cx="242.40" cy="126.40" r="2.5" fill="#2250aa"/>
<text x="249.40" y="129.80" font-size="11.6" text-anchor="start" fill="#1a1a1a">Human</text>
<text x="364.60" y="95.80" font-size="12.5" text-anchor="start" fill="#1a1a1a">D</text>
<line x1="401.60" y1="207.40" x2="401.60" y2="101.60" stroke="#111" stroke-width="1"/>
<line x1="399.20" y1="206.90" x2="401.60" y2="206.90" stroke="#111" stroke-width="1"/>
<text x="398.70" y="210.86" font-size="11" text-anchor="end" fill="#1a1a1a">0</text>
<line x1="399.20" y1="180.70" x2="401.60" y2="180.70" stroke="#111" stroke-width="1"/>
<text x="398.70" y="184.66" font-size="11" text-anchor="end" fill="#1a1a1a">20</text>
<line x1="399.20" y1="154.50" x2="401.60" y2="154.50" stroke="#111" stroke-width="1"/>
<text x="398.70" y="158.46" font-size="11" text-anchor="end" fill="#1a1a1a">40</text>
<line x1="399.20" y1="128.30" x2="401.60" y2="128.30" stroke="#111" stroke-width="1"/>
<text x="398.70" y="132.26" font-size="11" text-anchor="end" fill="#1a1a1a">60</text>
<line x1="399.20" y1="102.10" x2="401.60" y2="102.10" stroke="#111" stroke-width="1"/>
<text x="398.70" y="106.06" font-size="11" text-anchor="end" fill="#1a1a1a">80</text>
<line x1="401.00" y1="206.90" x2="541.50" y2="206.90" stroke="#111" stroke-width="1"/>
<text x="381.8" y="155" font-size="10.9" text-anchor="middle" fill="#1a1a1a" transform="rotate(-90 381.8 155)">IC<tspan font-size="8.2" dy="2.2">50</tspan><tspan dy="-2.2"> (nM)</tspan></text>
<line x1="423.40" y1="144.41" x2="423.40" y2="140.35" stroke="#111" stroke-width="1.1"/>
<line x1="417.20" y1="140.35" x2="429.60" y2="140.35" stroke="#111" stroke-width="1.1"/>
<rect x="410.10" y="144.41" width="26.60" height="62.49" fill="#757575" stroke="#111" stroke-width="1"/>
<text x="423.40" y="137.15" font-size="11.2" text-anchor="middle" fill="#1a1a1a">47.7</text>
<text x="437.90" y="218.80" font-size="11.6" text-anchor="end" fill="#1a1a1a" transform="rotate(-26 437.9 218.79999999999998)">Mouse</text>
<line x1="455.50" y1="197.34" x2="455.50" y2="195.24" stroke="#111" stroke-width="1.1"/>
<line x1="449.30" y1="195.24" x2="461.70" y2="195.24" stroke="#111" stroke-width="1.1"/>
<rect x="442.20" y="197.34" width="26.60" height="9.56" fill="#ab722b" stroke="#111" stroke-width="1"/>
<text x="455.50" y="192.04" font-size="11.2" text-anchor="middle" fill="#1a1a1a">7.6</text>
<text x="464.70" y="219.10" font-size="11.6" text-anchor="end" fill="#1a1a1a" transform="rotate(-26 464.7 219.1)">Rat</text>
<line x1="487.80" y1="184.37" x2="487.80" y2="178.34" stroke="#111" stroke-width="1.1"/>
<line x1="481.60" y1="178.34" x2="494.00" y2="178.34" stroke="#111" stroke-width="1.1"/>
<rect x="474.70" y="184.37" width="26.20" height="22.53" fill="#1f8c46" stroke="#111" stroke-width="1"/>
<text x="487.80" y="175.14" font-size="11.2" text-anchor="middle" fill="#1a1a1a">17.7</text>
<text x="501.10" y="218.80" font-size="11.6" text-anchor="end" fill="#1a1a1a" transform="rotate(-26 501.09999999999997 218.79999999999998)">Rabbit</text>
<line x1="519.75" y1="174.15" x2="519.75" y2="171.66" stroke="#111" stroke-width="1.1"/>
<line x1="513.55" y1="171.66" x2="525.95" y2="171.66" stroke="#111" stroke-width="1.1"/>
<rect x="506.80" y="174.15" width="25.90" height="32.75" fill="#2250aa" stroke="#111" stroke-width="1"/>
<text x="519.75" y="168.46" font-size="11.2" text-anchor="middle" fill="#1a1a1a">25.0</text>
<text x="534.20" y="219.10" font-size="11.6" text-anchor="end" fill="#1a1a1a" transform="rotate(-26 534.2 219.1)">Human</text>
<text x="3.20" y="254.30" font-size="12.3" text-anchor="start" fill="#1a1a1a">E</text>
<line x1="112.30" y1="250.70" x2="112.30" y2="499.50" stroke="#111" stroke-width="1.0" stroke-dasharray="8.6,2.3"/>
<text x="21.90" y="382.10" font-size="11.7" text-anchor="middle" fill="#1a1a1a" transform="rotate(-90 21.9 382.1)">Scattered light intensity</text>
<path d="M41.64,297.60 C41.67,295.27 41.71,288.63 41.81,283.64 C41.91,278.64 42.05,272.00 42.22,267.64 C42.38,263.27 42.61,259.73 42.80,257.45 C42.99,255.18 43.19,254.35 43.38,253.96 C43.58,253.58 43.67,254.25 43.96,255.13 C44.25,256.00 44.64,257.60 45.13,259.20 C45.61,260.80 46.00,262.59 46.87,264.73 C47.75,266.86 49.05,269.72 50.36,272.00 C51.67,274.28 53.27,276.56 54.73,278.40 C56.18,280.24 57.39,281.60 59.09,283.05 C60.79,284.51 62.73,285.96 64.91,287.13 C67.09,288.29 69.52,289.26 72.18,290.04 C74.85,290.81 77.76,291.30 80.91,291.78 C84.06,292.27 87.94,292.70 91.09,292.95 C94.24,293.19 97.39,293.28 99.82,293.24 C102.24,293.19 103.55,292.80 105.64,292.65 C107.72,292.51 111.21,292.41 112.33,292.36" fill="none" stroke="#111" stroke-width="1.1" stroke-linejoin="round" stroke-linecap="round"/>
<path d="M112.30,292.67 L114.81,292.62 L117.33,292.03 L119.84,291.99 L122.36,292.39 L124.87,292.27 L127.39,292.18 L129.90,291.91 L132.41,292.03 L134.93,291.98 L137.44,291.91 L139.96,291.61 L142.47,291.72 L144.99,291.64 L147.50,291.78 L150.01,291.89 L152.53,291.81 L155.04,291.52 L157.56,291.40 L160.07,291.24 L162.59,291.05 L165.10,290.99 L167.61,291.20 L170.13,291.06 L172.64,291.04 L175.16,291.30 L177.67,291.02 L180.19,290.99 L182.70,290.74" fill="none" stroke="#111" stroke-width="1.1" stroke-linejoin="round" stroke-linecap="round"/>
<path d="M42.22,346.18 C42.25,344.00 42.30,337.70 42.39,333.09 C42.49,328.48 42.64,322.42 42.80,318.55 C42.96,314.67 43.09,312.10 43.38,309.82 C43.67,307.54 44.11,305.94 44.55,304.87 C44.98,303.81 45.52,303.52 46.00,303.42 C46.48,303.32 46.97,303.81 47.45,304.29 C47.94,304.78 47.94,304.92 48.91,306.33 C49.88,307.73 51.82,310.69 53.27,312.73 C54.73,314.76 56.18,316.75 57.64,318.55 C59.09,320.34 60.55,322.04 62.00,323.49 C63.45,324.95 64.67,326.06 66.36,327.27 C68.06,328.48 70.24,329.84 72.18,330.76 C74.12,331.68 75.82,332.36 78.00,332.80 C80.18,333.24 82.61,333.14 85.27,333.38 C87.94,333.62 91.09,333.92 94.00,334.25 C96.91,334.59 99.67,334.98 102.73,335.42 C105.78,335.85 110.73,336.63 112.33,336.87" fill="none" stroke="#111" stroke-width="1.1" stroke-linejoin="round" stroke-linecap="round"/>
<path d="M112.30,336.77 L114.81,336.99 L117.33,336.98 L119.84,337.17 L122.36,337.25 L124.87,337.04 L127.39,337.09 L129.90,337.57 L132.41,337.35 L134.93,337.41 L137.44,337.86 L139.96,337.67 L142.47,337.93 L144.99,337.82 L147.50,337.97 L150.01,337.80 L152.53,338.11 L155.04,338.30 L157.56,338.20 L160.07,338.38 L162.59,338.41 L165.10,338.18 L167.61,338.60 L170.13,338.59 L172.64,338.51 L175.16,338.45 L177.67,338.94 L180.19,338.81 L182.70,339.01" fill="none" stroke="#111" stroke-width="1.1" stroke-linejoin="round" stroke-linecap="round"/>
<path d="M42.22,394.69 C42.32,392.85 42.51,387.66 42.80,383.64 C43.09,379.61 43.43,374.52 43.96,370.55 C44.50,366.57 45.27,362.45 46.00,359.78 C46.73,357.12 47.50,355.76 48.33,354.55 C49.15,353.33 49.88,352.65 50.95,352.51 C52.01,352.36 53.37,352.85 54.73,353.67 C56.08,354.50 57.39,355.76 59.09,357.45 C60.79,359.15 62.97,361.77 64.91,363.85 C66.85,365.94 68.79,368.02 70.73,369.96 C72.67,371.90 74.61,373.79 76.55,375.49 C78.48,377.19 80.42,378.79 82.36,380.15 C84.30,381.50 86.24,382.72 88.18,383.64 C90.12,384.56 91.82,385.14 94.00,385.67 C96.18,386.21 98.22,386.59 101.27,386.84 C104.33,387.08 110.48,387.08 112.33,387.13" fill="none" stroke="#111" stroke-width="1.1" stroke-linejoin="round" stroke-linecap="round"/>
<path d="M112.30,386.86 L114.06,386.73 L115.82,386.98 L117.58,386.74 L119.34,386.65 L121.10,386.94 L122.86,387.39 L124.62,387.27 L126.38,387.22 L128.14,386.71 L129.90,386.98 L131.66,386.73 L133.42,386.63 L135.18,386.55 L136.94,386.63 L138.70,387.26 L140.46,387.16 L142.22,387.12 L143.98,387.10 L145.74,386.54 L147.50,386.63 L149.26,386.90 L151.02,386.98 L152.78,387.07 L154.54,387.08 L156.30,386.35 L158.06,386.81 L159.82,386.85 L161.58,386.69 L163.34,386.38 L165.10,386.63 L166.86,386.27 L168.62,387.01 L170.38,386.93 L172.14,386.63 L173.90,386.40 L175.66,386.93 L177.42,386.61 L179.18,386.87 L180.94,386.83 L182.70,386.51" fill="none" stroke="#111" stroke-width="1.1" stroke-linejoin="round" stroke-linecap="round"/>
<path d="M42.22,441.82 C42.36,439.88 42.61,433.82 43.09,430.18 C43.58,426.55 44.30,422.91 45.13,420.00 C45.95,417.09 46.78,414.91 48.04,412.73 C49.30,410.55 50.85,408.61 52.69,406.91 C54.53,405.21 56.81,403.61 59.09,402.55 C61.37,401.48 63.94,400.95 66.36,400.51 C68.79,400.07 70.48,399.83 73.64,399.93 C76.79,400.02 81.39,400.56 85.27,401.09 C89.15,401.62 93.03,402.50 96.91,403.13 C100.79,403.76 106.02,404.48 108.55,404.87 C111.07,405.26 111.45,405.36 112.04,405.45" fill="none" stroke="#111" stroke-width="1.1" stroke-linejoin="round" stroke-linecap="round"/>
<path d="M112.04,405.45 L113.64,411.23 L115.24,415.77 L116.84,419.07 L118.44,421.54 L120.04,423.90 L121.64,425.54 L123.24,426.55 L124.84,427.55 L126.44,428.52 L128.04,428.73 L129.64,429.32 L131.24,429.72 L132.84,430.25 L134.44,430.49 L136.04,431.23 L137.64,431.06 L139.24,431.62 L140.84,431.30 L142.44,431.88 L144.04,431.78 L145.64,431.99 L147.24,432.07 L148.84,431.93 L150.44,431.98 L152.04,432.29 L153.64,432.04 L155.24,432.03 L156.84,432.51 L158.44,432.49 L160.04,432.34 L161.64,432.55 L163.24,432.83 L164.84,432.54 L166.44,432.52 L168.04,432.75 L169.64,432.67 L171.24,432.85 L172.84,432.72 L174.44,433.20 L176.04,433.29 L177.64,433.11 L179.24,433.17 L180.84,433.17 L182.44,433.62 L182.73,433.59" fill="none" stroke="#111" stroke-width="1.1" stroke-linejoin="round" stroke-linecap="round"/>
<path d="M42.22,496.33 C42.27,494.73 42.41,489.78 42.51,486.73 C42.61,483.67 42.61,481.15 42.80,478.00 C42.99,474.85 43.28,470.39 43.67,467.82 C44.06,465.25 44.40,464.04 45.13,462.58 C45.85,461.13 46.68,460.16 48.04,459.09 C49.39,458.02 51.19,457.15 53.27,456.18 C55.36,455.21 57.88,454.10 60.55,453.27 C63.21,452.45 66.12,451.77 69.27,451.24 C72.42,450.70 75.82,450.27 79.45,450.07 C83.09,449.88 87.21,449.93 91.09,450.07 C94.97,450.22 99.33,450.65 102.73,450.95 C106.12,451.24 110.00,451.67 111.45,451.82" fill="none" stroke="#111" stroke-width="1.1" stroke-linejoin="round" stroke-linecap="round"/>
<path d="M111.45,451.82 L113.05,460.42 L114.65,468.55 L116.25,473.14 L117.85,476.24 L119.45,478.19 L121.05,479.59 L122.65,480.64 L124.25,481.38 L125.85,482.09 L127.45,482.93 L129.05,483.17 L130.65,483.73 L132.25,484.12 L133.85,484.44 L135.45,484.71 L137.05,484.49 L138.65,484.62 L140.25,485.02 L141.85,485.04 L143.45,484.93 L145.05,485.28 L146.65,485.44 L148.25,485.45 L149.85,485.11 L151.45,485.15 L153.05,484.97 L154.65,485.48 L156.25,485.03 L157.85,485.27 L159.45,485.12 L161.05,485.11 L162.65,485.03 L164.25,485.15 L165.85,484.98 L167.45,484.76 L169.05,484.59 L170.65,484.73 L172.25,484.91 L173.85,484.40 L175.45,484.62 L177.05,484.51 L178.65,484.16 L180.25,484.09 L181.85,484.27 L182.73,484.07" fill="none" stroke="#111" stroke-width="1.1" stroke-linejoin="round" stroke-linecap="round"/>
<text x="57.80" y="276.70" font-size="11" text-anchor="start" fill="#1a1a1a">Inflow</text>
<text x="165.60" y="282.60" font-size="10.8" text-anchor="end" fill="#1a1a1a">0 µM</text>
<text x="165.60" y="330.30" font-size="10.8" text-anchor="end" fill="#1a1a1a">0.04 µM</text>
<text x="165.60" y="380.30" font-size="10.8" text-anchor="end" fill="#1a1a1a">0.2 µM</text>
<text x="165.60" y="426.20" font-size="10.8" text-anchor="end" fill="#1a1a1a">1 µM</text>
<text x="165.60" y="477.50" font-size="10.8" text-anchor="end" fill="#1a1a1a">5 µM</text>
<line x1="40.20" y1="499.80" x2="182.70" y2="499.80" stroke="#111" stroke-width="1.0"/>
<path d="M40.20,499.80 L44.10,498.10 L44.10,501.50 Z" fill="#111"/>
<path d="M111.70,499.80 L107.80,498.10 L107.80,501.50 Z" fill="#111"/>
<path d="M112.90,499.80 L116.80,498.10 L116.80,501.50 Z" fill="#111"/>
<path d="M182.70,499.80 L178.80,498.10 L178.80,501.50 Z" fill="#111"/>
<text x="75.10" y="510.10" font-size="10.8" text-anchor="middle" fill="#1a1a1a">2</text>
<text x="147.80" y="510.10" font-size="10.8" text-anchor="middle" fill="#1a1a1a">60</text>
<text x="112.50" y="519.00" font-size="11" text-anchor="middle" fill="#1a1a1a">Time (s)</text>
<text x="189.40" y="253.50" font-size="12" text-anchor="start" fill="#1a1a1a">F</text>
<line x1="280.40" y1="250.70" x2="280.40" y2="499.50" stroke="#111" stroke-width="1.0" stroke-dasharray="10.5,2.9"/>
<path d="M211.49,258.04 L211.93,269.09 L212.51,283.64 L213.09,298.18 L213.67,291.78 L214.40,280.73 L215.42,272.58 L216.87,268.51 L219.20,266.18 L223.27,264.15 L227.64,262.69 L232.00,261.53 L237.82,259.78 L243.64,258.33 L250.91,257.75 L258.18,257.16 L272.73,256.00 L280.29,254.55" fill="none" stroke="#111" stroke-width="1.1" stroke-linejoin="round" stroke-linecap="round"/>
<path d="M280.00,254.60 L281.98,254.74 L283.96,254.82 L285.94,254.98 L287.92,254.86 L289.90,255.05 L291.88,254.37 L293.86,254.76 L295.84,255.19 L297.82,254.99 L299.81,255.24 L301.79,254.65 L303.77,254.98 L305.75,254.84 L307.73,255.12 L309.71,255.18 L311.69,254.78 L313.67,254.98 L315.65,255.07 L317.63,255.62 L319.61,255.55 L321.59,255.10 L323.57,255.65 L325.55,255.17 L327.53,255.59 L329.51,255.24 L331.49,255.18 L333.48,255.92 L335.46,255.43 L337.44,255.48 L339.42,256.14 L341.40,256.09 L343.38,255.66 L345.36,256.24 L347.34,255.95 L349.32,256.10 L351.30,255.76" fill="none" stroke="#111" stroke-width="1.1" stroke-linejoin="round" stroke-linecap="round"/>
<path d="M211.64,304.00 C211.73,306.42 211.93,313.70 212.22,318.55 C212.51,323.39 212.90,328.73 213.38,333.09 C213.87,337.45 214.55,342.06 215.13,344.73 C215.71,347.39 216.24,348.85 216.87,349.09 C217.50,349.33 218.08,347.64 218.91,346.18 C219.73,344.73 220.61,342.55 221.82,340.36 C223.03,338.18 224.48,335.52 226.18,333.09 C227.88,330.67 230.06,327.85 232.00,325.82 C233.94,323.78 235.88,322.23 237.82,320.87 C239.76,319.52 241.21,318.69 243.64,317.67 C246.06,316.65 249.45,315.59 252.36,314.76 C255.27,313.94 258.18,313.31 261.09,312.73 C264.00,312.15 266.67,311.66 269.82,311.27 C272.97,310.88 278.30,310.55 280.00,310.40" fill="none" stroke="#111" stroke-width="1.1" stroke-linejoin="round" stroke-linecap="round"/>
<path d="M280.00,310.40 L281.60,310.02 L283.20,309.51 L284.80,309.22 L286.40,308.85 L288.00,307.95 L289.60,307.64 L291.20,307.22 L292.80,306.90 L294.40,306.83 L296.00,306.59 L297.60,306.05 L299.20,306.03 L300.80,305.94 L302.40,305.72 L304.00,305.30 L305.60,305.31 L307.20,305.26 L308.80,305.43 L310.40,305.34 L312.00,305.26 L313.60,305.04 L315.20,305.41 L316.80,305.01 L318.40,305.07 L320.00,304.97 L321.60,305.21 L323.20,305.33 L324.80,305.28 L326.40,305.35 L328.00,305.28 L329.60,305.25 L331.20,305.02 L332.80,305.41 L334.40,305.41 L336.00,305.24 L337.60,305.36 L339.20,305.25 L340.80,305.20 L342.40,305.08 L344.00,305.05 L345.60,304.93 L347.20,304.55 L348.80,304.88 L350.40,304.54 L351.27,304.66" fill="none" stroke="#111" stroke-width="1.1" stroke-linejoin="round" stroke-linecap="round"/>
<path d="M211.64,354.55 C211.73,356.97 211.93,364.24 212.22,369.09 C212.51,373.94 212.75,379.52 213.38,383.64 C214.01,387.76 214.84,391.39 216.00,393.82 C217.16,396.24 218.67,397.70 220.36,398.18 C222.06,398.67 223.76,397.94 226.18,396.73 C228.61,395.52 232.00,393.09 234.91,390.91 C237.82,388.73 240.73,385.82 243.64,383.64 C246.55,381.45 249.45,379.66 252.36,377.82 C255.27,375.98 258.18,374.04 261.09,372.58 C264.00,371.13 267.15,370.16 269.82,369.09 C272.48,368.02 275.39,366.91 277.09,366.18 C278.79,365.45 279.52,364.97 280.00,364.73" fill="none" stroke="#111" stroke-width="1.1" stroke-linejoin="round" stroke-linecap="round"/>
<path d="M280.00,364.73 L281.60,360.78 L283.20,359.41 L284.80,358.80 L286.40,358.04 L288.00,357.92 L289.60,357.45 L291.20,357.46 L292.80,357.39 L294.40,356.87 L296.00,357.28 L297.60,356.71 L299.20,357.13 L300.80,356.64 L302.40,357.08 L304.00,356.92 L305.60,356.93 L307.20,356.96 L308.80,357.14 L310.40,356.82 L312.00,357.11 L313.60,356.63 L315.20,356.74 L316.80,356.93 L318.40,356.94 L320.00,357.05 L321.60,357.02 L323.20,356.75 L324.80,356.78 L326.40,356.82 L328.00,356.72 L329.60,357.09 L331.20,357.09 L332.80,356.89 L334.40,356.89 L336.00,356.60 L337.60,357.06 L339.20,356.88 L340.80,356.70 L342.40,357.04 L344.00,356.90 L345.60,356.63 L347.20,356.88 L348.80,356.70 L350.40,356.62 L351.27,356.75" fill="none" stroke="#111" stroke-width="1.1" stroke-linejoin="round" stroke-linecap="round"/>
<path d="M211.05,404.00 C211.15,406.42 211.30,413.70 211.64,418.55 C211.98,423.39 212.51,429.21 213.09,433.09 C213.67,436.97 214.16,439.49 215.13,441.82 C216.10,444.15 217.31,445.99 218.91,447.05 C220.51,448.12 222.06,448.61 224.73,448.22 C227.39,447.83 231.27,446.04 234.91,444.73 C238.55,443.42 242.67,441.82 246.55,440.36 C250.42,438.91 254.30,437.31 258.18,436.00 C262.06,434.69 266.18,433.58 269.82,432.51 C273.45,431.44 278.30,430.08 280.00,429.60" fill="none" stroke="#111" stroke-width="1.1" stroke-linejoin="round" stroke-linecap="round"/>
<path d="M280.00,429.60 L281.60,421.74 L283.20,417.93 L284.80,415.35 L286.40,413.61 L288.00,413.03 L289.60,412.46 L291.20,411.88 L292.80,411.32 L294.40,411.33 L296.00,411.17 L297.60,410.68 L299.20,410.72 L300.80,410.48 L302.40,410.79 L304.00,410.76 L305.60,410.42 L307.20,410.84 L308.80,410.75 L310.40,410.46 L312.00,410.42 L313.60,410.41 L315.20,410.94 L316.80,410.86 L318.40,410.87 L320.00,410.70 L321.60,410.50 L323.20,410.45 L324.80,410.67 L326.40,410.85 L328.00,410.63 L329.60,410.50 L331.20,410.66 L332.80,410.71 L334.40,410.93 L336.00,410.52 L337.60,410.65 L339.20,410.59 L340.80,410.85 L342.40,410.52 L344.00,410.83 L345.60,410.87 L347.20,410.69 L348.80,410.72 L350.40,410.94 L351.27,410.45" fill="none" stroke="#111" stroke-width="1.1" stroke-linejoin="round" stroke-linecap="round"/>
<path d="M211.05,449.78 C211.15,451.82 211.35,458.02 211.64,462.00 C211.93,465.98 212.32,470.00 212.80,473.64 C213.28,477.27 213.87,481.01 214.55,483.82 C215.22,486.63 215.90,488.81 216.87,490.51 C217.84,492.21 218.81,493.13 220.36,494.00 C221.92,494.87 223.76,495.45 226.18,495.75 C228.61,496.04 231.52,495.94 234.91,495.75 C238.30,495.55 242.67,494.97 246.55,494.58 C250.42,494.19 254.30,493.76 258.18,493.42 C262.06,493.08 266.18,492.88 269.82,492.55 C273.45,492.21 278.30,491.58 280.00,491.38" fill="none" stroke="#111" stroke-width="1.1" stroke-linejoin="round" stroke-linecap="round"/>
<path d="M280.00,491.38 L281.60,486.34 L283.20,483.31 L284.80,481.26 L286.40,479.96 L288.00,478.03 L289.60,476.92 L291.20,475.52 L292.80,474.67 L294.40,473.48 L296.00,472.31 L297.60,471.31 L299.20,470.59 L300.80,470.15 L302.40,469.55 L304.00,468.79 L305.60,467.87 L307.20,467.64 L308.80,466.89 L310.40,466.75 L312.00,466.05 L313.60,465.62 L315.20,465.25 L316.80,465.32 L318.40,464.63 L320.00,464.28 L321.60,464.01 L323.20,463.84 L324.80,463.67 L326.40,463.29 L328.00,463.32 L329.60,463.31 L331.20,463.02 L332.80,462.74 L334.40,462.23 L336.00,462.29 L337.60,462.07 L339.20,461.69 L340.80,461.95 L342.40,461.54 L344.00,461.84 L345.60,461.84 L347.20,461.86 L348.80,462.06 L350.40,461.77 L351.27,461.89" fill="none" stroke="#111" stroke-width="1.1" stroke-linejoin="round" stroke-linecap="round"/>
<text x="224.30" y="276.80" font-size="11" text-anchor="start" fill="#1a1a1a">Outflow</text>
<text x="331.60" y="282.60" font-size="10.8" text-anchor="end" fill="#1a1a1a">0 µM</text>
<text x="331.60" y="330.30" font-size="10.8" text-anchor="end" fill="#1a1a1a">0.04 µM</text>
<text x="331.60" y="380.10" font-size="10.8" text-anchor="end" fill="#1a1a1a">0.2 µM</text>
<text x="331.60" y="426.70" font-size="10.8" text-anchor="end" fill="#1a1a1a">1 µM</text>
<text x="331.60" y="479.30" font-size="10.8" text-anchor="end" fill="#1a1a1a">5 µM</text>
<line x1="208.70" y1="499.80" x2="351.30" y2="499.80" stroke="#111" stroke-width="1.0"/>
<path d="M208.70,499.80 L212.60,498.10 L212.60,501.50 Z" fill="#111"/>
<path d="M279.60,499.80 L275.70,498.10 L275.70,501.50 Z" fill="#111"/>
<path d="M280.80,499.80 L284.70,498.10 L284.70,501.50 Z" fill="#111"/>
<path d="M351.30,499.80 L347.40,498.10 L347.40,501.50 Z" fill="#111"/>
<text x="243.60" y="510.10" font-size="10.8" text-anchor="middle" fill="#1a1a1a">2</text>
<text x="316.40" y="510.10" font-size="10.8" text-anchor="middle" fill="#1a1a1a">60</text>
<text x="281.00" y="519.00" font-size="11" text-anchor="middle" fill="#1a1a1a">Time (s)</text>
<text x="364.60" y="254.20" font-size="12" text-anchor="start" fill="#1a1a1a">G</text>
<line x1="464.80" y1="246.70" x2="464.80" y2="359.30" stroke="#333" stroke-width="1.2" stroke-dasharray="8.6,2.4"/>
<path d="M394.50,293.20 C394.83,292.25 395.73,289.47 396.50,287.50 C397.27,285.53 398.18,283.48 399.10,281.40 C400.02,279.32 400.93,277.03 402.00,275.00 C403.07,272.97 404.50,270.95 405.50,269.20 C406.50,267.45 407.10,265.95 408.00,264.50 C408.90,263.05 409.98,261.67 410.90,260.50 C411.82,259.33 412.58,258.42 413.50,257.50 C414.42,256.58 415.02,255.83 416.40,255.00 C417.78,254.17 419.98,253.05 421.80,252.50 C423.62,251.95 425.43,251.82 427.30,251.70 C429.17,251.58 430.88,251.62 433.00,251.80 C435.12,251.98 436.83,252.30 440.00,252.80 C443.17,253.30 448.67,254.27 452.00,254.80 C455.33,255.33 457.93,255.67 460.00,256.00 C462.07,256.33 463.67,256.67 464.40,256.80" fill="none" stroke="#111" stroke-width="1.1" stroke-linejoin="round" stroke-linecap="round"/>
<path d="M464.42,256.58 L466.02,263.23 L467.62,267.15 L469.22,269.66 L470.82,271.90 L472.42,273.56 L474.02,275.22 L475.62,276.43 L477.22,277.67 L478.82,278.79 L480.42,279.51 L482.02,280.39 L483.62,280.79 L485.22,281.33 L486.82,282.04 L488.42,282.15 L490.02,282.56 L491.62,283.34 L493.22,283.73 L494.82,283.65 L496.42,283.89 L498.02,283.69 L499.62,284.31 L501.22,284.86 L502.82,284.91 L504.42,284.27 L506.02,284.37 L507.62,284.26 L509.22,284.52 L510.82,284.56 L512.42,284.09 L514.02,283.71 L515.62,284.07 L517.22,284.66 L518.82,284.85 L520.42,284.68 L522.02,284.64 L523.62,284.35 L525.22,284.59 L526.82,284.95 L528.42,285.26 L530.02,284.84 L531.62,284.62 L533.22,284.32 L533.36,284.25" fill="none" stroke="#111" stroke-width="1.1" stroke-linejoin="round" stroke-linecap="round"/>
<path d="M394.60,343.27 C394.70,340.61 394.94,332.36 395.18,327.27 C395.42,322.18 395.67,316.70 396.05,312.73 C396.44,308.75 396.93,305.50 397.51,303.42 C398.09,301.33 398.82,300.36 399.55,300.22 C400.27,300.07 400.90,300.95 401.87,302.55 C402.84,304.15 404.05,307.15 405.36,309.82 C406.67,312.48 408.27,315.88 409.73,318.55 C411.18,321.21 412.64,323.73 414.09,325.82 C415.55,327.90 417.10,329.84 418.45,331.05 C419.81,332.27 420.54,332.80 422.24,333.09 C423.93,333.38 426.12,332.90 428.64,332.80 C431.16,332.70 434.45,332.61 437.36,332.51 C440.27,332.41 443.18,332.12 446.09,332.22 C449.00,332.32 452.15,332.65 454.82,333.09 C457.48,333.53 460.49,334.59 462.09,334.84 C463.69,335.08 464.03,334.59 464.42,334.55" fill="none" stroke="#111" stroke-width="1.1" stroke-linejoin="round" stroke-linecap="round"/>
<path d="M464.40,334.36 L466.70,334.17 L469.00,334.53 L471.30,334.02 L473.60,334.34 L475.90,334.16 L478.20,333.87 L480.50,334.18 L482.80,333.76 L485.10,334.03 L487.40,333.69 L489.70,333.66 L492.00,333.88 L494.30,334.15 L496.60,333.55 L498.90,333.58 L501.20,333.86 L503.50,334.06 L505.80,333.72 L508.10,333.53 L510.40,333.95 L512.70,333.16 L515.00,333.76 L517.30,333.26 L519.60,333.10 L521.90,333.03 L524.20,333.13 L526.50,333.49 L528.80,332.94 L531.10,333.21 L533.40,333.21" fill="none" stroke="#111" stroke-width="1.1" stroke-linejoin="round" stroke-linecap="round"/>
<text x="409.70" y="276.50" font-size="11" text-anchor="start" fill="#1a1a1a">Inflow</text>
<text x="514.60" y="272.40" font-size="10.8" text-anchor="end" fill="#1a1a1a">1 µM</text>
<text x="521.90" y="324.80" font-size="11" text-anchor="end" fill="#1a1a1a">Washed</text>
<line x1="394.60" y1="359.30" x2="534.80" y2="359.30" stroke="#111" stroke-width="1.0"/>
<path d="M394.60,359.30 L398.50,357.60 L398.50,361.00 Z" fill="#111"/>
<path d="M464.10,359.30 L460.20,357.60 L460.20,361.00 Z" fill="#111"/>
<path d="M465.30,359.30 L469.20,357.60 L469.20,361.00 Z" fill="#111"/>
<path d="M534.80,359.30 L530.90,357.60 L530.90,361.00 Z" fill="#111"/>
<text x="428.60" y="370.40" font-size="10.8" text-anchor="middle" fill="#1a1a1a">2</text>
<text x="500.80" y="370.40" font-size="10.8" text-anchor="middle" fill="#1a1a1a">60</text>
<text x="465.70" y="379.30" font-size="11" text-anchor="middle" fill="#1a1a1a">Time (s)</text>
<text x="364.40" y="385.40" font-size="12.5" text-anchor="start" fill="#1a1a1a">H</text>
<line x1="401.90" y1="481.70" x2="401.90" y2="392.98" stroke="#111" stroke-width="1"/>
<line x1="399.50" y1="481.20" x2="401.90" y2="481.20" stroke="#111" stroke-width="1"/>
<text x="398.10" y="485.23" font-size="11.2" text-anchor="end" fill="#1a1a1a">0</text>
<line x1="399.50" y1="459.27" x2="401.90" y2="459.27" stroke="#111" stroke-width="1"/>
<text x="398.10" y="463.30" font-size="11.2" text-anchor="end" fill="#1a1a1a">30</text>
<line x1="399.50" y1="437.34" x2="401.90" y2="437.34" stroke="#111" stroke-width="1"/>
<text x="398.10" y="441.37" font-size="11.2" text-anchor="end" fill="#1a1a1a">60</text>
<line x1="399.50" y1="415.41" x2="401.90" y2="415.41" stroke="#111" stroke-width="1"/>
<text x="398.10" y="419.44" font-size="11.2" text-anchor="end" fill="#1a1a1a">90</text>
<line x1="399.50" y1="393.48" x2="401.90" y2="393.48" stroke="#111" stroke-width="1"/>
<text x="398.10" y="397.51" font-size="11.2" text-anchor="end" fill="#1a1a1a">120</text>
<line x1="407.20" y1="490.80" x2="536.40" y2="490.80" stroke="#111" stroke-width="1"/>
<line x1="407.70" y1="490.80" x2="407.70" y2="493.20" stroke="#111" stroke-width="1"/>
<text x="409.00" y="504.10" font-size="11" text-anchor="middle" fill="#1a1a1a">10<tspan font-size="7.70" dy="-3.96">−1</tspan></text>
<line x1="433.34" y1="490.80" x2="433.34" y2="493.20" stroke="#111" stroke-width="1"/>
<text x="434.64" y="504.10" font-size="11" text-anchor="middle" fill="#1a1a1a">10<tspan font-size="7.70" dy="-3.96">0</tspan></text>
<line x1="458.98" y1="490.80" x2="458.98" y2="493.20" stroke="#111" stroke-width="1"/>
<text x="460.28" y="504.10" font-size="11" text-anchor="middle" fill="#1a1a1a">10<tspan font-size="7.70" dy="-3.96">1</tspan></text>
<line x1="484.62" y1="490.80" x2="484.62" y2="493.20" stroke="#111" stroke-width="1"/>
<text x="485.92" y="504.10" font-size="11" text-anchor="middle" fill="#1a1a1a">10<tspan font-size="7.70" dy="-3.96">2</tspan></text>
<line x1="510.26" y1="490.80" x2="510.26" y2="493.20" stroke="#111" stroke-width="1"/>
<text x="511.56" y="504.10" font-size="11" text-anchor="middle" fill="#1a1a1a">10<tspan font-size="7.70" dy="-3.96">3</tspan></text>
<line x1="535.90" y1="490.80" x2="535.90" y2="493.20" stroke="#111" stroke-width="1"/>
<text x="537.20" y="504.10" font-size="11" text-anchor="middle" fill="#1a1a1a">10<tspan font-size="7.70" dy="-3.96">4</tspan></text>
<text x="472.30" y="518.00" font-size="11.9" text-anchor="middle" fill="#1a1a1a">Concentration (nM)</text>
<text x="376.40" y="437.20" font-size="11.9" text-anchor="middle" fill="#1a1a1a" transform="rotate(-90 376.4 437.2)">Iihibition rate (%)</text>
<path d="M433.14,475.81 L433.65,475.64 L434.17,475.46 L434.68,475.27 L435.19,475.07 L435.70,474.86 L436.22,474.65 L436.73,474.43 L437.24,474.20 L437.76,473.95 L438.27,473.70 L438.78,473.44 L439.29,473.17 L439.81,472.89 L440.32,472.60 L440.83,472.30 L441.34,471.98 L441.86,471.66 L442.37,471.32 L442.88,470.97 L443.40,470.61 L443.91,470.23 L444.42,469.84 L444.93,469.44 L445.45,469.03 L445.96,468.60 L446.47,468.15 L446.99,467.69 L447.50,467.22 L448.01,466.74 L448.52,466.23 L449.04,465.72 L449.55,465.19 L450.06,464.64 L450.58,464.08 L451.09,463.50 L451.60,462.91 L452.11,462.30 L452.63,461.68 L453.14,461.04 L453.65,460.39 L454.16,459.72 L454.68,459.04 L455.19,458.34 L455.70,457.63 L456.22,456.91 L456.73,456.17 L457.24,455.42 L457.75,454.66 L458.27,453.89 L458.78,453.11 L459.29,452.32 L459.81,451.51 L460.32,450.70 L460.83,449.88 L461.34,449.05 L461.86,448.22 L462.37,447.38 L462.88,446.53 L463.40,445.68 L463.91,444.83 L464.42,443.97 L464.93,443.11 L465.45,442.25 L465.96,441.40 L466.47,440.54 L466.98,439.68 L467.50,438.83 L468.01,437.98 L468.52,437.14 L469.04,436.30 L469.55,435.47 L470.06,434.65 L470.57,433.83 L471.09,433.02 L471.60,432.22 L472.11,431.43 L472.63,430.66 L473.14,429.89 L473.65,429.13 L474.16,428.39 L474.68,427.66 L475.19,426.95 L475.70,426.24 L476.22,425.55 L476.73,424.88 L477.24,424.22 L477.75,423.57 L478.27,422.94 L478.78,422.33 L479.29,421.73 L479.80,421.14 L480.32,420.57 L480.83,420.02 L481.34,419.48 L481.86,418.95 L482.37,418.44 L482.88,417.95 L483.39,417.47 L483.91,417.00 L484.42,416.55 L484.93,416.11 L485.45,415.69 L485.96,415.28 L486.47,414.89 L486.98,414.50 L487.50,414.13 L488.01,413.78 L488.52,413.43 L489.04,413.10 L489.55,412.78 L490.06,412.47 L490.57,412.17 L491.09,411.89 L491.60,411.61 L492.11,411.35 L492.62,411.09 L493.14,410.84 L493.65,410.61 L494.16,410.38 L494.68,410.16 L495.19,409.95 L495.70,409.75 L496.21,409.56 L496.73,409.37 L497.24,409.19 L497.75,409.02 L498.27,408.86 L498.78,408.70 L499.29,408.55 L499.80,408.40 L500.32,408.26 L500.83,408.13 L501.34,408.00 L501.86,407.88 L502.37,407.76 L502.88,407.65 L503.39,407.54 L503.91,407.44 L504.42,407.34 L504.93,407.24 L505.44,407.15 L505.96,407.07 L506.47,406.98 L506.98,406.90 L507.50,406.83 L508.01,406.76 L508.52,406.69 L509.03,406.62 L509.55,406.56 L510.06,406.49 L510.57,406.44 L511.09,406.38 L511.60,406.33 L512.11,406.28 L512.62,406.23 L513.14,406.18 L513.65,406.14 L514.16,406.09 L514.68,406.05 L515.19,406.01 L515.70,405.98 L516.21,405.94 L516.73,405.91 L517.24,405.87 L517.75,405.84 L518.26,405.81 L518.78,405.78 L519.29,405.76 L519.80,405.73 L520.32,405.71 L520.83,405.68 L521.34,405.66 L521.85,405.64 L522.37,405.62 L522.88,405.60 L523.39,405.58 L523.91,405.56 L524.42,405.54 L524.93,405.53 L525.44,405.51 L525.96,405.50" fill="none" stroke="#e5141e" stroke-width="1.3" stroke-linejoin="round" stroke-linecap="round"/>
<path d="M448.52,479.39 L449.04,479.33 L449.55,479.27 L450.06,479.20 L450.58,479.12 L451.09,479.04 L451.60,478.95 L452.11,478.86 L452.63,478.76 L453.14,478.64 L453.65,478.52 L454.16,478.39 L454.68,478.25 L455.19,478.10 L455.70,477.94 L456.22,477.76 L456.73,477.57 L457.24,477.37 L457.75,477.15 L458.27,476.91 L458.78,476.65 L459.29,476.38 L459.81,476.08 L460.32,475.76 L460.83,475.42 L461.34,475.05 L461.86,474.66 L462.37,474.24 L462.88,473.78 L463.40,473.30 L463.91,472.78 L464.42,472.23 L464.93,471.64 L465.45,471.01 L465.96,470.34 L466.47,469.63 L466.98,468.88 L467.50,468.09 L468.01,467.24 L468.52,466.35 L469.04,465.42 L469.55,464.43 L470.06,463.40 L470.57,462.31 L471.09,461.18 L471.60,460.00 L472.11,458.77 L472.63,457.50 L473.14,456.18 L473.65,454.82 L474.16,453.43 L474.68,451.99 L475.19,450.52 L475.70,449.03 L476.22,447.51 L476.73,445.97 L477.24,444.41 L477.75,442.84 L478.27,441.27 L478.78,439.69 L479.29,438.12 L479.80,436.56 L480.32,435.01 L480.83,433.48 L481.34,431.98 L481.86,430.50 L482.37,429.05 L482.88,427.64 L483.39,426.27 L483.91,424.94 L484.42,423.65 L484.93,422.41 L485.45,421.21 L485.96,420.06 L486.47,418.96 L486.98,417.91 L487.50,416.91 L488.01,415.95 L488.52,415.05 L489.04,414.19 L489.55,413.38 L490.06,412.61 L490.57,411.88 L491.09,411.20 L491.60,410.56 L492.11,409.96 L492.62,409.39 L493.14,408.86 L493.65,408.37 L494.16,407.91 L494.68,407.47 L495.19,407.07 L495.70,406.69 L496.21,406.34 L496.73,406.01 L497.24,405.71 L497.75,405.43 L498.27,405.17 L498.78,404.92 L499.29,404.69 L499.80,404.48 L500.32,404.29 L500.83,404.11 L501.34,403.94 L501.86,403.79 L502.37,403.64 L502.88,403.51 L503.39,403.39 L503.91,403.27 L504.42,403.17 L504.93,403.07 L505.44,402.98 L505.96,402.89 L506.47,402.82 L506.98,402.75 L507.50,402.68 L508.01,402.62 L508.52,402.56 L509.03,402.51 L509.55,402.46 L510.06,402.42 L510.57,402.38 L511.09,402.34 L511.60,402.31 L512.11,402.27 L512.62,402.24 L513.14,402.22 L513.65,402.19 L514.16,402.17 L514.68,402.15 L515.19,402.13 L515.70,402.11 L516.21,402.09 L516.73,402.07 L517.24,402.06 L517.75,402.05 L518.26,402.03 L518.78,402.02 L519.29,402.01 L519.80,402.00 L520.32,401.99 L520.83,401.99 L521.34,401.98 L521.85,401.97 L522.37,401.96 L522.88,401.96 L523.39,401.95 L523.91,401.95 L524.42,401.94 L524.93,401.94 L525.44,401.93 L525.96,401.93" fill="none" stroke="#111" stroke-width="1.3" stroke-linejoin="round" stroke-linecap="round"/>
<line x1="433.14" y1="476.08" x2="433.14" y2="468.41" stroke="#e5141e" stroke-width="0.9"/>
<line x1="430.54" y1="468.41" x2="435.74" y2="468.41" stroke="#e5141e" stroke-width="0.9"/>
<line x1="448.58" y1="466.73" x2="448.58" y2="455.76" stroke="#e5141e" stroke-width="0.9"/>
<line x1="445.98" y1="455.76" x2="451.18" y2="455.76" stroke="#e5141e" stroke-width="0.9"/>
<line x1="464.01" y1="444.28" x2="464.01" y2="434.05" stroke="#e5141e" stroke-width="0.9"/>
<line x1="461.41" y1="434.05" x2="466.61" y2="434.05" stroke="#e5141e" stroke-width="0.9"/>
<line x1="479.45" y1="426.23" x2="479.45" y2="422.21" stroke="#e5141e" stroke-width="0.9"/>
<line x1="476.85" y1="422.21" x2="482.05" y2="422.21" stroke="#e5141e" stroke-width="0.9"/>
<line x1="494.89" y1="407.66" x2="494.89" y2="405.10" stroke="#e5141e" stroke-width="0.9"/>
<line x1="492.29" y1="405.10" x2="497.49" y2="405.10" stroke="#e5141e" stroke-width="0.9"/>
<line x1="510.32" y1="408.10" x2="510.32" y2="405.91" stroke="#e5141e" stroke-width="0.9"/>
<line x1="507.72" y1="405.91" x2="512.92" y2="405.91" stroke="#e5141e" stroke-width="0.9"/>
<line x1="525.76" y1="405.69" x2="525.76" y2="403.49" stroke="#e5141e" stroke-width="0.9"/>
<line x1="523.16" y1="403.49" x2="528.36" y2="403.49" stroke="#e5141e" stroke-width="0.9"/>
<line x1="479.45" y1="440.12" x2="479.45" y2="436.46" stroke="#111" stroke-width="0.9"/>
<line x1="476.85" y1="436.46" x2="482.05" y2="436.46" stroke="#111" stroke-width="0.9"/>
<line x1="494.89" y1="410.00" x2="494.89" y2="407.81" stroke="#111" stroke-width="0.9"/>
<line x1="492.29" y1="407.81" x2="497.49" y2="407.81" stroke="#111" stroke-width="0.9"/>
<line x1="510.32" y1="402.84" x2="510.32" y2="397.72" stroke="#111" stroke-width="0.9"/>
<line x1="507.72" y1="397.72" x2="512.92" y2="397.72" stroke="#111" stroke-width="0.9"/>
<line x1="525.76" y1="402.25" x2="525.76" y2="400.06" stroke="#111" stroke-width="0.9"/>
<line x1="523.16" y1="400.06" x2="528.36" y2="400.06" stroke="#111" stroke-width="0.9"/>
<rect x="446.48" y="477.35" width="4.2" height="4.2" fill="#111"/>
<rect x="461.91" y="468.43" width="4.2" height="4.2" fill="#111"/>
<rect x="477.35" y="438.02" width="4.2" height="4.2" fill="#111"/>
<rect x="492.79" y="407.90" width="4.2" height="4.2" fill="#111"/>
<rect x="508.22" y="400.74" width="4.2" height="4.2" fill="#111"/>
<rect x="523.66" y="400.15" width="4.2" height="4.2" fill="#111"/>
<circle cx="433.14" cy="476.08" r="2.4" fill="#e5141e"/>
<circle cx="448.58" cy="466.73" r="2.4" fill="#e5141e"/>
<circle cx="464.01" cy="444.28" r="2.4" fill="#e5141e"/>
<circle cx="479.45" cy="426.23" r="2.4" fill="#e5141e"/>
<circle cx="494.89" cy="407.66" r="2.4" fill="#e5141e"/>
<circle cx="510.32" cy="408.10" r="2.4" fill="#e5141e"/>
<circle cx="525.76" cy="405.69" r="2.4" fill="#e5141e"/>
<line x1="403.80" y1="419.70" x2="412.90" y2="419.70" stroke="#e5141e" stroke-width="1.1"/>
<circle cx="408.20" cy="419.70" r="2.35" fill="#e5141e"/>
<text x="414.00" y="422.90" font-size="10.8" text-anchor="start" fill="#1a1a1a">UT-A1</text>
<line x1="403.80" y1="430.30" x2="412.90" y2="430.30" stroke="#111" stroke-width="1.1"/>
<rect x="406.20" y="428.30" width="4.0" height="4.0" fill="#111"/>
<text x="414.00" y="434.10" font-size="10.8" text-anchor="start" fill="#1a1a1a">UT-B</text>
<text y="403.6" font-size="8.9" fill="#1a1a1a"><tspan x="432">IC</tspan><tspan x="442.2" font-size="6.3" dy="2">50</tspan><tspan x="450.7" dy="-2">= 18 nM</tspan></text>
<line x1="456.40" y1="404.60" x2="482.00" y2="418.20" stroke="#e5141e" stroke-width="0.9"/>
<text y="467.5" font-size="8.9" fill="#1a1a1a"><tspan x="483">IC</tspan><tspan x="493.2" font-size="6.3" dy="2">50</tspan><tspan x="501.7" dy="-2">= 58 nM</tspan></text>
<line x1="478.20" y1="447.70" x2="501.00" y2="459.20" stroke="#111" stroke-width="0.9"/>
</svg>
</body></html>
